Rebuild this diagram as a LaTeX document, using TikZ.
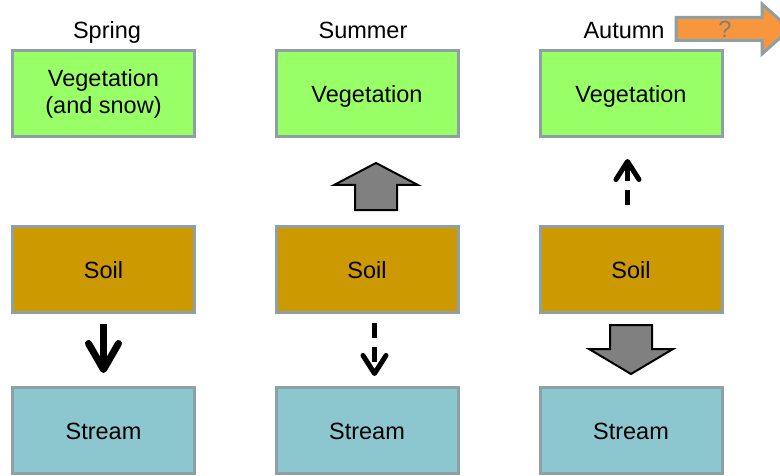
\documentclass[tikz,border=0pt]{standalone}
\usepackage{fontspec}
\setmainfont{Liberation Sans}
\usetikzlibrary{arrows.meta,positioning}
\definecolor{rim}{RGB}{140,160,166}
\definecolor{vegfill}{RGB}{153,255,102}
\definecolor{soilfill}{RGB}{204,153,0}
\definecolor{streamfill}{RGB}{140,198,206}
\definecolor{nextfill}{RGB}{247,150,60}
\begin{document}
\begin{tikzpicture}[x=1pt,y=1pt,font=\fontsize{23.5}{27}\selectfont,
  box/.style={draw=rim,line width=3pt,minimum width=182pt,minimum height=86pt,
    inner sep=0pt,align=center},
  oneline/.style={text height=17pt,text depth=0pt},
  veg/.style={box,fill=vegfill},soil/.style={box,oneline,fill=soilfill},
  stream/.style={box,oneline,fill=streamfill},
  season/.style={inner sep=0pt,anchor=base},
  fat/.style={draw=black,line width=2pt,fill=gray!100,line join=miter},
  flow/.style={line width=#1,line cap=butt},
  solidarr/.style={flow=7pt,-{Straight Barb[round,length=26pt,width=30pt]}},
  dasharr/.style={flow=5pt,dash pattern=on 15pt off 9pt,
    -{Straight Barb[round,length=18pt,width=23pt]}}]
  \useasboundingbox (0,0) rectangle (780,475);
  \clip (0,0) rectangle (780,475);
  % columns
  \node[veg] (veg1) at (103.5,381) {Vegetation\\(and snow)};
  \node[soil,below=86.5pt of veg1] (soil1) {Soil};
  \node[stream,below=72pt of soil1] (stream1) {Stream};
  \node[veg,oneline,right=78.5pt of veg1] (veg2) {Vegetation};
  \node[soil,below=86.5pt of veg2] (soil2) {Soil};
  \node[stream,below=72pt of soil2] (stream2) {Stream};
  \node[veg,oneline,right=79pt of veg2] (veg3) {Vegetation};
  \node[soil,below=86.5pt of veg3] (soil3) {Soil};
  \node[stream,below=72pt of soil3] (stream3) {Stream};
  \node[season,above=10.5pt of veg1,anchor=base,xshift=3.5pt] (spring) {Spring};
  \node[season,above=10.5pt of veg2,anchor=base,xshift=-4pt] (summer) {Summer};
  \node[season,above=10.5pt of veg3,anchor=base,xshift=-7pt] (autumn) {Autumn};
  % what comes next
  \draw[draw=rim,line width=3pt,fill=nextfill,line join=miter]
    (676,457.5) -- (762,457.5) -- (762,471) -- (790,446) -- (762,421)
    -- (762,434.5) -- (676,434.5) -- cycle;
  \node[text=gray,inner sep=0pt] (query) at (725,446) {?};
  % fluxes
  \draw[solidarr] ([yshift=-10pt]soil1.south) -- ([yshift=13pt]stream1.north);
  \draw[fat] ([xshift=-12pt,yshift=15pt]soil2.north) -- ++(0,25) -- ++(-21,0)
    -- ++(42,22) -- ++(42,-22) -- ++(-21,0) -- ++(0,-25) -- cycle;
  \draw[dasharr] ([xshift=7.5pt,yshift=-9pt]soil2.south)
    -- ([xshift=7.5pt,yshift=10pt]stream2.north);
  \draw[dasharr] ([xshift=-3.5pt,yshift=20pt]soil3.north)
    -- ([xshift=-3.5pt,yshift=-20.5pt]veg3.south);
  \draw[fat] ([xshift=-21pt,yshift=-11pt]soil3.south) -- ++(0,-24) -- ++(-21,0)
    -- ++(42,-25) -- ++(42,25) -- ++(-21,0) -- ++(0,24) -- cycle;
\end{tikzpicture}
\end{document}
